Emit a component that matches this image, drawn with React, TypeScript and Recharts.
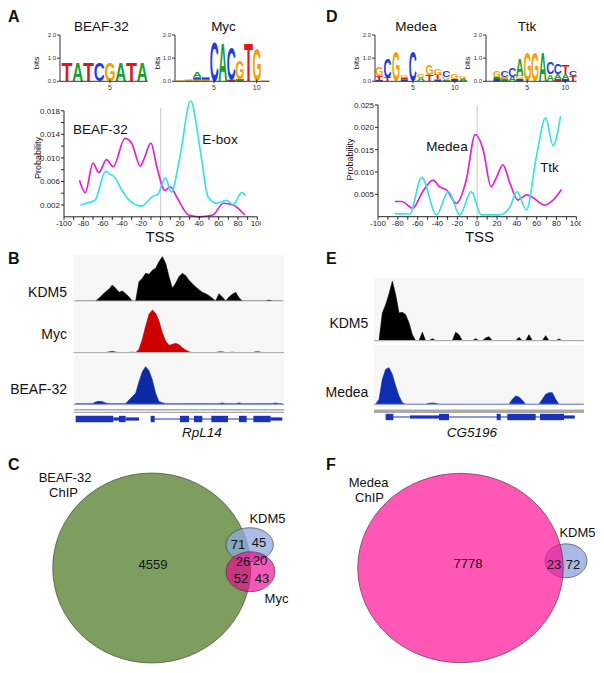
import React from "react";
import {
  LineChart,
  Line,
  AreaChart,
  Area,
  BarChart,
  Bar,
  ScatterChart,
  Scatter,
  XAxis,
  YAxis,
  ReferenceLine,
  ReferenceArea,
  CartesianGrid,
} from "recharts";

const FONT = '"Liberation Sans", Arial, Helvetica, sans-serif';

// ---- A / D: motif occurrence around the TSS
const tssTicks = [-100, -90, -80, -70, -60, -50, -40, -30, -20, -10, 0, 10, 20, 30, 40, 50, 60, 70, 80, 90, 100];
const aYTicks = [0.002, 0.004, 0.006, 0.008, 0.01, 0.012, 0.014, 0.016, 0.018];
const dYTicks = [0.005, 0.01, 0.015, 0.02, 0.025];

const beafTss = [-84, -78, -70, -64, -56, -49, -37, -30, -21, -18, -10, -4, 4.5, 10, 16.5, 29, 40, 54, 65, 75, 87];
const beafProb = [0.0062, 0.0041, 0.0091, 0.0075, 0.0097, 0.0085, 0.0133, 0.0125, 0.0086, 0.0095, 0.0125, 0.0085, 0.0045, 0.0051, 0.0034, 0.0003, 0.0, 0.0003, 0.0023, 0.002, 0.0003];
const eboxTss = [-83, -75, -68, -57, -52, -48, -40, -33, -20, -8, -3, 5, 11, 20, 31, 41, 49, 58, 68, 75, 84, 88];
const eboxProb = [0.002, 0.0024, 0.0028, 0.0077, 0.0072, 0.0068, 0.0045, 0.0029, 0.0018, 0.0035, 0.0038, 0.0066, 0.0042, 0.0102, 0.0197, 0.0113, 0.0034, 0.0023, 0.0028, 0.0021, 0.0041, 0.0036];

const medeaTss = [-83, -76, -65, -55, -44.5, -38, -31, -21, -11, -2, 6, 14, 19, 26, 33, 41, 50, 56, 68, 76.5, 85];
const medeaProb = [0.0034, 0.0034, 0.0019, 0.0056, 0.0082, 0.0067, 0.006, 0.003, 0.0082, 0.0184, 0.015, 0.0067, 0.0086, 0.0116, 0.0075, 0.0037, 0.0049, 0.0043, 0.0026, 0.0037, 0.0061];
const ttkTss = [-83, -68, -56, -41, -29, -17.6, -6, 4, 22.7, 33, 40, 49.6, 59.7, 69, 76.5, 84];
const ttkProb = [0.0007, 0.0006, 0.0088, 0.0004, 0.0056, 0.0004, 0.0056, 0.0004, 0.0004, 0.0022, 0.0056, 0.0015, 0.0135, 0.0221, 0.0159, 0.0225];

// ---- sequence logos (letters bottom -> top, bits)
const beafLogo = [[["T", 0.82]], [["A", 0.82]], [["T", 0.82]], [["C", 0.82]], [["G", 0.82]], [["A", 0.82]], [["T", 0.82]], [["A", 0.82]]];
const mycLogo = [
  [["G", 0.04]],
  [["C", 0.03], ["G", 0.05]],
  [["G", 0.07], ["C", 0.1], ["A", 0.22]],
  [["G", 0.07], ["C", 0.1]],
  [["C", 1.72]],
  [["A", 1.64]],
  [["T", 0.07], ["C", 1.42]],
  [["A", 0.1], ["G", 0.82]],
  [["T", 1.69]],
  [["G", 1.42]],
  [["G", 0.03]],
];
const medeaLogo = [
  [["C", 0.06], ["T", 0.15], ["G", 0.37]],
  [["T", 0.15], ["C", 0.85]],
  [["G", 1.35]],
  [["C", 0.08], ["T", 0.08], ["G", 0.12]],
  [["C", 1.35]],
  [["A", 0.15], ["G", 0.15]],
  [["T", 0.27], ["G", 0.45]],
  [["C", 0.08], ["T", 0.2], ["G", 0.3]],
  [["A", 0.05], ["G", 0.15], ["C", 0.3]],
  [["C", 0.1], ["G", 0.2]],
  [["A", 0.12], ["G", 0.12]],
];
const ttkLogo = [
  [["C", 0.1], ["A", 0.1], ["G", 0.3]],
  [["A", 0.1], ["G", 0.1], ["C", 0.3]],
  [["A", 0.2], ["C", 0.4]],
  [["C", 0.1], ["G", 0.15], ["A", 0.75]],
  [["G", 1.24]],
  [["G", 1.24]],
  [["A", 1.24]],
  [["A", 0.3], ["C", 0.5]],
  [["T", 0.1], ["A", 0.2], ["C", 0.45]],
  [["C", 0.1], ["A", 0.2], ["T", 0.4]],
  [["T", 0.25], ["C", 0.25]],
];

// ---- B / E: ChIP coverage in 63 bins
const kdm5B = [0, 0, 0, 0, 0, 0, 0, 8, 18, 28, 35, 48, 38, 26, 30, 22, 12, 0, 0, 58, 68, 83, 80, 92, 98, 118, 133, 113, 73, 38, 53, 73, 83, 76, 62, 52, 42, 34, 26, 22, 16, 8, 0, 22, 12, 0, 12, 20, 26, 10, 0, 0, 0, 0, 0, 0, 0, 0, 3, 0, 0, 0, 0];
const mycB = [0, 0, 0, 0, 0, 0, 0, 0, 0, 0, 3, 4, 2, 0, 0, 0, 0, 2, 0, 10, 40, 80, 115, 128, 118, 95, 60, 35, 22, 25, 28, 24, 15, 8, 3, 0, 0, 0, 0, 0, 0, 0, 0, 3, 3, 0, 0, 2, 0, 0, 0, 0, 0, 0, 3, 3, 0, 0, 0, 0, 0, 0, 0];
const beafB = [2, 2, 2, 2, 2, 2, 7, 9, 8, 4, 2, 2, 2, 2, 2, 2, 13, 23, 33, 68, 98, 113, 101, 73, 33, 8, 5, 2, 2, 2, 2, 2, 2, 2, 2, 2, 2, 2, 2, 2, 2, 2, 2, 2, 4, 2, 2, 2, 2, 4, 2, 2, 2, 2, 2, 2, 2, 2, 2, 2, 4, 2, 2];
const kdm5E = [0, 0, 83, 108, 140, 178, 138, 83, 85, 78, 53, 18, 0, 0, 25, 0, 0, 6, 0, 0, 0, 0, 0, 0, 25, 18, 0, 0, 0, 0, 6, 0, 0, 8, 12, 0, 0, 0, 0, 0, 0, 0, 0, 10, 0, 0, 18, 0, 0, 0, 0, 15, 0, 0, 0, 5, 0, 0, 0, 0, 0, 0, 0];
const medeaE = [0, 15, 75, 105, 110, 90, 55, 25, 5, 0, 0, 0, 0, 0, 0, 0, 3, 4, 3, 0, 0, 0, 0, 0, 0, 0, 0, 0, 0, 0, 0, 0, 0, 0, 0, 0, 0, 0, 0, 0, 0, 15, 25, 22, 12, 0, 0, 0, 0, 0, 15, 30, 35, 35, 15, 0, 0, 0, 0, 0, 0, 0, 0];

// gene models: [start, end, thick(1)/utr(0)]
const rpl14Exons = [[0.5, 11.8, 1], [11.8, 13.5, 0], [13.5, 15.5, 1], [15.5, 19.5, 0], [23, 24.2, 1], [31.8, 34.5, 1], [36, 38.5, 1], [41.2, 46.2, 1], [49.5, 51.8, 1], [53.8, 59, 1], [59, 62.5, 0]];
const rpl14Introns = [[23, 62]];
const cg5196Exons = [[3.5, 5.8, 1], [10.8, 19.5, 0], [19.5, 22.5, 1], [36.8, 38, 1], [40, 48.5, 1], [49.8, 57, 1], [57, 60.2, 0]];
const cg5196Introns = [[3.5, 60.2]];

// ---- C / F: peak overlaps
const vennCCounts = [4559, 71, 45, 26, 20, 52, 43];
const vennFCounts = [7778, 23, 72];

const LETTER_COLOR: Record<string, string> = { A: "#1b9e2f", C: "#1d3fe0", G: "#f5a200", T: "#e3151c" };

const frame = (x0: number, y0: number, x1: number, y1: number, yw = 0, xh = 0) => {
  const m = { top: 4, right: 4, bottom: 2, left: 2 };
  return {
    style: { position: "absolute" as const, left: x0 - yw - m.left, top: y0 - m.top },
    width: x1 - x0 + yw + m.left + m.right,
    height: y1 - y0 + xh + m.top + m.bottom,
    margin: m,
  };
};

const zip = (xs: number[], ys: number[]) => xs.map((tss, i) => ({ tss, p: ys[i] }));

const tickStyle = { fontSize: 8, fill: "#222", fontFamily: FONT };

const ProfileA = () => {
  const fr = frame(64, 98.9, 257.3, 216.7, 34, 22);
  return (
    <div style={fr.style}>
      <LineChart width={fr.width} height={fr.height} margin={fr.margin}>
        <XAxis type="number" dataKey="tss" domain={[-100, 100]} ticks={tssTicks} interval={0} height={22}
          tickFormatter={(v) => (v % 20 === 0 ? String(v) : "")} tick={tickStyle} tickSize={3} tickMargin={1} stroke="#222" />
        <YAxis type="number" domain={[0, 0.02]} ticks={aYTicks} interval={0} width={34} axisLine={false}
          tickFormatter={(v) => (Math.round(v * 1000) % 4 === 2 ? v.toFixed(3) : "")} tick={tickStyle} tickSize={3} tickMargin={1} stroke="#222" />
        <ReferenceLine segment={[{ x: -100, y: 0 }, { x: -100, y: 0.018 }]} stroke="#222" />
        <ReferenceLine segment={[{ x: 0, y: 0 }, { x: 0, y: 0.0185 }]} stroke="#c8c8c8" />
        <Line data={zip(beafTss, beafProb)} dataKey="p" type="monotone" stroke="#e022dc" strokeWidth={1.7} dot={false} isAnimationActive={false} />
        <Line data={zip(eboxTss, eboxProb)} dataKey="p" type="monotone" stroke="#3de0e6" strokeWidth={1.7} dot={false} isAnimationActive={false} />
      </LineChart>
    </div>
  );
};

const ProfileD = () => {
  const fr = frame(378.3, 105, 576.7, 216.7, 34, 22);
  return (
    <div style={fr.style}>
      <LineChart width={fr.width} height={fr.height} margin={fr.margin}>
        <XAxis type="number" dataKey="tss" domain={[-100, 100]} ticks={tssTicks} interval={0} height={22}
          tickFormatter={(v) => (v % 20 === 0 ? String(v) : "")} tick={tickStyle} tickSize={3} tickMargin={1} stroke="#222" />
        <YAxis type="number" domain={[0, 0.025]} ticks={dYTicks} interval={0} width={34}
          tickFormatter={(v) => v.toFixed(3)} tick={tickStyle} tickSize={3} tickMargin={1} stroke="#222" />
        <ReferenceLine segment={[{ x: 0, y: 0 }, { x: 0, y: 0.025 }]} stroke="#c8c8c8" />
        <Line data={zip(medeaTss, medeaProb)} dataKey="p" type="monotone" stroke="#e022dc" strokeWidth={1.7} dot={false} isAnimationActive={false} />
        <Line data={zip(ttkTss, ttkProb)} dataKey="p" type="monotone" stroke="#3de0e6" strokeWidth={1.7} dot={false} isAnimationActive={false} />
      </LineChart>
    </div>
  );
};

const logoRows = (cols: any[][]) =>
  cols.map((stack, i) => {
    const row: any = { pos: i + 1 };
    for (let k = 0; k < 3; k++) {
      row[`h${k}`] = stack[k] ? stack[k][1] : 0;
      row[`l${k}`] = stack[k] ? stack[k][0] : "";
    }
    return row;
  });

// stretched letter filling its stacked bar; very short ones become a coloured sliver
const letterShape = (k: number) => (p: any) => {
  const { x, y, width, height, payload } = p;
  const l = payload && payload[`l${k}`];
  if (!l || !(height > 0.4)) return <g />;
  if (height < 2.6) return <rect x={x + 0.5} y={y} width={width - 1} height={height} fill={LETTER_COLOR[l]} />;
  return (
    <text x={x} y={y + height} fontSize={height / 0.72} textLength={width} lengthAdjust="spacingAndGlyphs"
      fill={LETTER_COLOR[l]} fontFamily={FONT} fontWeight="bold">
      {l}
    </text>
  );
};

const LogoTick = (p: any) => {
  const { x, y, payload } = p;
  if (payload.value !== 5 && payload.value !== 10) return <g />;
  return (
    <g>
      <line x1={x} x2={x} y1={y - 2} y2={y + 2} stroke="#333" />
      <text x={x} y={y + 9} textAnchor="middle" fontSize={7} fill="#333" fontFamily={FONT}>{payload.value}</text>
    </g>
  );
};

const Logo = ({ cols, x0, x1, padLeft }: { cols: any[][]; x0: number; x1: number; padLeft: number }) => {
  const fr = frame(x0, 35, x1, 81.3, 18, 12);
  return (
    <div style={fr.style}>
      <BarChart width={fr.width} height={fr.height} margin={fr.margin} data={logoRows(cols)} barCategoryGap={0} barGap={0}>
        <XAxis dataKey="pos" height={12} padding={{ left: padLeft, right: 0 }} tickLine={false} tickSize={0} tickMargin={0}
          interval={0} stroke="#333" tick={(p: any) => <LogoTick {...p} />} />
        <YAxis type="number" domain={[0, 2]} ticks={[0, 1, 2]} width={18} interval={0} tickSize={3} tickMargin={1}
          tickFormatter={(v) => v.toFixed(1)} tick={{ fontSize: 6, fill: "#333", fontFamily: FONT }} stroke="#333" />
        {[0, 1, 2].map((k) => (
          <Bar key={k} dataKey={`h${k}`} stackId="s" shape={letterShape(k)} isAnimationActive={false} />
        ))}
      </BarChart>
    </div>
  );
};

const Track = ({ values, x0, x1, y0, y1, max, color, base }: any) => {
  const fr = frame(x0, y0, x1, y1);
  const data = values.map((v: number, i: number) => ({ i: i + 0.5, v }));
  return (
    <div style={fr.style}>
      <AreaChart width={fr.width} height={fr.height} margin={fr.margin} data={data}>
        <CartesianGrid horizontal={false} vertical={false} fill="#f6f6f6" stroke="none" />
        <XAxis type="number" dataKey="i" domain={[0, 63]} hide />
        <YAxis type="number" domain={[0, max]} hide allowDataOverflow />
        <Area type="linear" dataKey="v" fill={color} fillOpacity={1} stroke={color} strokeWidth={0.6} isAnimationActive={false} />
        <ReferenceLine y={0} stroke={base} strokeWidth={1.2} />
      </AreaChart>
    </div>
  );
};

const Gene = ({ exons, introns, x0, x1, cy, bands }: any) => {
  const fr = frame(x0, cy - 10, x1, cy + 10);
  const rows = exons.map((e: number[]) => ({ s: e[0], e: e[1], k: e[2], y: 0 }));
  return (
    <div style={fr.style}>
      <ScatterChart width={fr.width} height={fr.height} margin={fr.margin}>
        <XAxis type="number" dataKey="s" domain={[0, 63]} hide />
        <YAxis type="number" dataKey="y" domain={[-10, 10]} hide />
        {bands.map((b: number[], i: number) => (
          <ReferenceArea key={"b" + i} x1={0} x2={63} y1={b[0]} y2={b[1]} fill="#a9a9a9" fillOpacity={1} stroke="none" ifOverflow="visible" />
        ))}
        {introns.map((s: number[], i: number) => (
          <ReferenceLine key={"i" + i} segment={[{ x: s[0], y: 0 }, { x: s[1], y: 0 }]} stroke="#1a33b8" strokeWidth={1} />
        ))}
        {rows.map((r: any, i: number) => (
          <ReferenceArea key={"e" + i} x1={r.s} x2={r.e} y1={r.k ? -3.2 : -1.6} y2={r.k ? 3.2 : 1.6} fill="#1a33b8" fillOpacity={1} stroke="none" ifOverflow="visible" />
        ))}
        <Scatter data={rows} isAnimationActive={false} shape={() => <g />} />
      </ScatterChart>
    </div>
  );
};

const Venn = ({ x0, x1, y0, y1, sets, counts, spots }: any) => {
  const fr = frame(x0, y0, x1, y1);
  const nums = counts.map((n: number, i: number) => ({ x: spots[i][0], y: spots[i][1], n }));
  return (
    <div style={fr.style}>
      <ScatterChart width={fr.width} height={fr.height} margin={fr.margin}>
        <XAxis type="number" dataKey="x" domain={[x0, x1]} hide />
        <YAxis type="number" dataKey="y" domain={[y0, y1]} reversed hide />
        <Scatter data={sets} isAnimationActive={false}
          shape={(p: any) => (
            <ellipse cx={p.cx} cy={p.cy} rx={p.payload.rx} ry={p.payload.ry} fill={p.payload.fill}
              fillOpacity={p.payload.op} stroke="#333" strokeWidth={0.6} />
          )} />
        <Scatter data={nums} isAnimationActive={false}
          shape={(p: any) => (
            <text x={p.cx} y={p.cy} textAnchor="middle" dominantBaseline="central" fontSize={13} fill="#141414" fontFamily={FONT}>
              {p.payload.n}
            </text>
          )} />
      </ScatterChart>
    </div>
  );
};

const vennCSets = [
  { x: 151.7, y: 568, rx: 99, ry: 95, fill: "#7d9e5e", op: 1 },
  { x: 249.7, y: 544.7, rx: 23.7, ry: 17, fill: "#8ea8de", op: 0.76 },
  { x: 250.5, y: 571.7, rx: 24.5, ry: 20, fill: "#f00092", op: 0.65 },
];
const vennCSpots = [[153, 564], [238, 544], [259, 542], [243, 561], [260, 560], [241, 578], [262, 578]];
const vennFSets = [
  { x: 566, y: 560.8, rx: 21, ry: 17, fill: "#a8b9e5", op: 1 },
  { x: 460.5, y: 568, rx: 102.8, ry: 94.7, fill: "#ff0892", op: 0.68 },
];
const vennFSpots = [[468, 563], [554, 564], [573, 564]];

const labels: any[] = [
  { t: "A", x: 8, y: 16, s: 16, b: 1 },
  { t: "D", x: 326, y: 16, s: 16, b: 1 },
  { t: "B", x: 8, y: 258, s: 16, b: 1 },
  { t: "E", x: 326, y: 258, s: 16, b: 1 },
  { t: "C", x: 8, y: 464, s: 16, b: 1 },
  { t: "F", x: 326, y: 464, s: 16, b: 1 },
  { t: "BEAF-32", x: 101.5, y: 26, s: 13.5, a: "middle" },
  { t: "Myc", x: 223.5, y: 26, s: 13.5, a: "middle" },
  { t: "Medea", x: 416, y: 26, s: 13.5, a: "middle" },
  { t: "Ttk", x: 527, y: 26, s: 13.5, a: "middle" },
  { t: "bits", x: 36, y: 63, s: 8, a: "middle", r: 1 },
  { t: "bits", x: 157.5, y: 63, s: 8, a: "middle", r: 1 },
  { t: "bits", x: 356, y: 63, s: 8, a: "middle", r: 1 },
  { t: "bits", x: 467, y: 63, s: 8, a: "middle", r: 1 },
  { t: "BEAF-32", x: 100.5, y: 129.3, s: 13.5, a: "middle" },
  { t: "E-box", x: 220, y: 139.3, s: 13.5, a: "middle" },
  { t: "Medea", x: 447, y: 146.7, s: 13.5, a: "middle" },
  { t: "Ttk", x: 549.5, y: 167.3, s: 13.5, a: "middle" },
  { t: "Probability", x: 37.5, y: 158, s: 9, a: "middle", r: 1 },
  { t: "Probability", x: 349.5, y: 159.5, s: 9, a: "middle", r: 1 },
  { t: "TSS", x: 160, y: 236, s: 15, a: "middle" },
  { t: "TSS", x: 479.5, y: 236, s: 15, a: "middle" },
  { t: "KDM5", x: 67, y: 291.7, s: 14, a: "end" },
  { t: "Myc", x: 67, y: 334, s: 14, a: "end" },
  { t: "BEAF-32", x: 67, y: 389.3, s: 14, a: "end" },
  { t: "KDM5", x: 368.3, y: 322.7, s: 14, a: "end" },
  { t: "Medea", x: 368.3, y: 391.7, s: 14, a: "end" },
  { t: "RpL14", x: 202, y: 432.5, s: 13.5, a: "middle", i: 1 },
  { t: "CG5196", x: 472, y: 432, s: 13.5, a: "middle", i: 1 },
  { t: "BEAF-32", x: 65, y: 477, s: 13, a: "middle" },
  { t: "ChIP", x: 63.5, y: 492, s: 13, a: "middle" },
  { t: "KDM5", x: 267.5, y: 518, s: 13, a: "middle" },
  { t: "Myc", x: 276.5, y: 598, s: 13, a: "middle" },
  { t: "Medea", x: 368.5, y: 482, s: 13, a: "middle" },
  { t: "ChIP", x: 369.5, y: 497, s: 13, a: "middle" },
  { t: "KDM5", x: 577.5, y: 532, s: 13, a: "middle" },
];

export default function App() {
  return (
    <div style={{ position: "absolute", left: 0, top: 0, width: 604, height: 673, background: "#fff", fontFamily: FONT, overflow: "hidden" }}>
      <Logo cols={beafLogo} x0={60} x1={147.6} padLeft={1.6} />
      <Logo cols={mycLogo} x0={175} x1={269.5} padLeft={0.6} />
      <Logo cols={medeaLogo} x0={375} x1={467.4} padLeft={0.2} />
      <Logo cols={ttkLogo} x0={486} x1={576.7} padLeft={7} />
      <ProfileA />
      <ProfileD />

      <Track values={kdm5B} x0={74} x1={284} y0={255} y1={301} max={138} color="#000" base="#b0b0b0" />
      <Track values={mycB} x0={74} x1={284} y0={303} y1={352.7} max={149} color="#cc0000" base="#b0b0b0" />
      <Track values={beafB} x0={74} x1={284} y0={355} y1={404.3} max={148} color="#0d2aa6" base="#8c97e4" />
      <Gene exons={rpl14Exons} introns={rpl14Introns} x0={74} x1={284} cy={419.3} bands={[[8.6, 10], [6, 7.3]]} />

      <Track values={kdm5E} x0={374} x1={584} y0={278.3} y1={341} max={188} color="#000" base="#b0b0b0" />
      <Track values={medeaE} x0={374} x1={584} y0={345} y1={404.3} max={178} color="#0d2db2" base="#8c97e4" />
      <Gene exons={cg5196Exons} introns={cg5196Introns} x0={374} x1={584} cy={416.7} bands={[[4, 7.4]]} />

      <Venn x0={0} x1={300} y0={440} y1={673} sets={vennCSets} counts={vennCCounts} spots={vennCSpots} />
      <Venn x0={300} x1={604} y0={440} y1={673} sets={vennFSets} counts={vennFCounts} spots={vennFSpots} />

      <svg width={604} height={673} style={{ position: "absolute", left: 0, top: 0, pointerEvents: "none" }}>
        {labels.map((l, i) => (
          <text key={i} x={l.x} y={l.y} fontSize={l.s} fontFamily={FONT} fontWeight={l.b ? "bold" : "normal"}
            fontStyle={l.i ? "italic" : "normal"} textAnchor={l.a || "start"} dominantBaseline="central" fill="#111"
            transform={l.r ? `rotate(-90 ${l.x} ${l.y})` : undefined}>
            {l.t}
          </text>
        ))}
      </svg>
    </div>
  );
}
